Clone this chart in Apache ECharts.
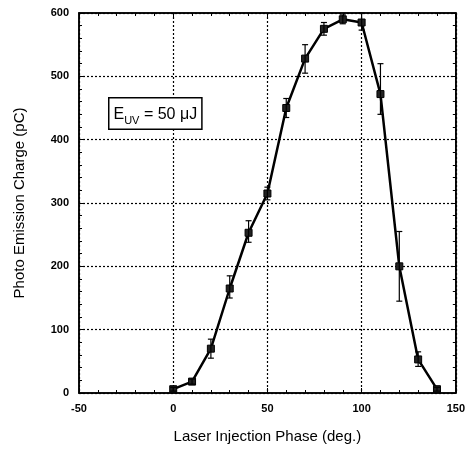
<!DOCTYPE html>
<html>
<head>
<meta charset="utf-8">
<script src="https://cdn.jsdelivr.net/npm/echarts@6/dist/echarts.min.js"></script>
<style>
  html, body { margin: 0; padding: 0; background: #fff; }
  #chart { width: 468px; height: 451px; }
</style>
</head>
<body>
<div id="chart"></div>
<script>
// laser phase (deg.) and charge (pC), error bar low / high
const phase  = [0, 10, 20, 30, 40, 50, 60, 70, 80, 90, 100, 110, 120, 130, 140];
const charge = [6, 18, 70, 165, 253, 315, 450, 528, 575, 590, 585, 472, 200, 53, 6];
const errLow  = [3, 14, 55, 150, 238, 305, 435, 505, 565, 583, 573, 440, 145, 42, 3];
const errHigh = [9, 22, 85, 185, 272, 325, 465, 550, 585, 597, 600, 520, 255, 65, 9];

const lineData = phase.map((p, i) => [p, charge[i]]);
const errData = phase.map((p, i) => [p, errLow[i], errHigh[i]]);

const chart = echarts.init(document.getElementById('chart'));

const labelFont = {
  color: '#000',
  fontFamily: 'Liberation Sans, Arial, sans-serif',
  fontWeight: 'bold',
  fontSize: 11
};

const option = {
  animation: false,
  backgroundColor: '#fff',
  grid: {
    left: 79, right: 9, top: 13, bottom: 58,
    show: true, borderColor: '#000', borderWidth: 1.5
  },
  xAxis: [{
    type: 'value', min: -50, max: 150, interval: 50,
    name: 'Laser Injection Phase (deg.)',
    nameLocation: 'middle', nameGap: 36,
    nameTextStyle: { color: '#000', fontFamily: 'Liberation Sans, Arial, sans-serif', fontSize: 15 },
    axisLine: { show: true, onZero: false, lineStyle: { color: '#000', width: 1.5 } },
    axisTick: { inside: true, length: 5, lineStyle: { color: '#000' } },
    minorTick: { show: true, splitNumber: 5, length: 3, lineStyle: { color: '#000' } },
    axisLabel: Object.assign({ margin: 10 }, labelFont),
    splitLine: { show: true, lineStyle: { color: '#000', type: [2, 2], width: 1.2 } }
  }, {
    type: 'value', min: -50, max: 150, interval: 50, position: 'top',
    axisLine: { show: true, onZero: false, lineStyle: { color: '#000', width: 1.5 } },
    axisTick: { inside: true, length: 5, lineStyle: { color: '#000' } },
    minorTick: { show: true, splitNumber: 5, length: 3, lineStyle: { color: '#000' } },
    axisLabel: { show: false },
    splitLine: { show: false }
  }],
  yAxis: [{
    type: 'value', min: 0, max: 600, interval: 100,
    name: 'Photo Emission Charge (pC)',
    nameLocation: 'middle', nameGap: 52,
    nameTextStyle: { color: '#000', fontFamily: 'Liberation Sans, Arial, sans-serif', fontSize: 15 },
    axisLine: { show: true, onZero: false, lineStyle: { color: '#000', width: 1.5 } },
    axisTick: { inside: true, length: 5, lineStyle: { color: '#000' } },
    minorTick: { show: true, splitNumber: 5, length: 3, lineStyle: { color: '#000' } },
    axisLabel: Object.assign({ margin: 10 }, labelFont),
    splitLine: { show: true, lineStyle: { color: '#000', type: [2, 2], width: 1.2 } }
  }, {
    type: 'value', min: 0, max: 600, interval: 100, position: 'right',
    axisLine: { show: true, onZero: false, lineStyle: { color: '#000', width: 1.5 } },
    axisTick: { inside: true, length: 5, lineStyle: { color: '#000' } },
    minorTick: { show: true, splitNumber: 5, length: 3, lineStyle: { color: '#000' } },
    axisLabel: { show: false },
    splitLine: { show: false }
  }],
  graphic: [{
    type: 'text',
    left: 108, top: 97,
    style: {
      text: '{e|E}{s|UV}{e| = 50 μJ}',
      rich: {
        e: { fontFamily: 'Liberation Sans, Arial, sans-serif', fontSize: 16, fill: '#000', verticalAlign: 'bottom' },
        s: { fontFamily: 'Liberation Sans, Arial, sans-serif', fontSize: 11, fill: '#000', verticalAlign: 'bottom', padding: [0, 0, -4, 0] }
      },
      backgroundColor: '#fff',
      borderColor: '#000',
      borderWidth: 1.5,
      padding: [8, 4, 6, 4]
    },
    z: 100
  }],
  series: [{
    type: 'line',
    data: lineData,
    symbol: 'rect',
    symbolSize: 7,
    itemStyle: { color: '#222', borderColor: '#000', borderWidth: 1 },
    lineStyle: { color: '#000', width: 2.5 },
    z: 3
  }, {
    type: 'custom',
    data: errData,
    z: 4,
    renderItem: function (params, api) {
      const x = api.value(0);
      const lo = api.coord([x, api.value(1)]);
      const hi = api.coord([x, api.value(2)]);
      const w = 3;
      const style = { stroke: '#000', lineWidth: 1.2 };
      return {
        type: 'group',
        children: [
          { type: 'line', shape: { x1: lo[0], y1: lo[1], x2: hi[0], y2: hi[1] }, style: style },
          { type: 'line', shape: { x1: lo[0] - w, y1: lo[1], x2: lo[0] + w, y2: lo[1] }, style: style },
          { type: 'line', shape: { x1: hi[0] - w, y1: hi[1], x2: hi[0] + w, y2: hi[1] }, style: style }
        ]
      };
    }
  }]
};

chart.setOption(option);
</script>
</body>
</html>
